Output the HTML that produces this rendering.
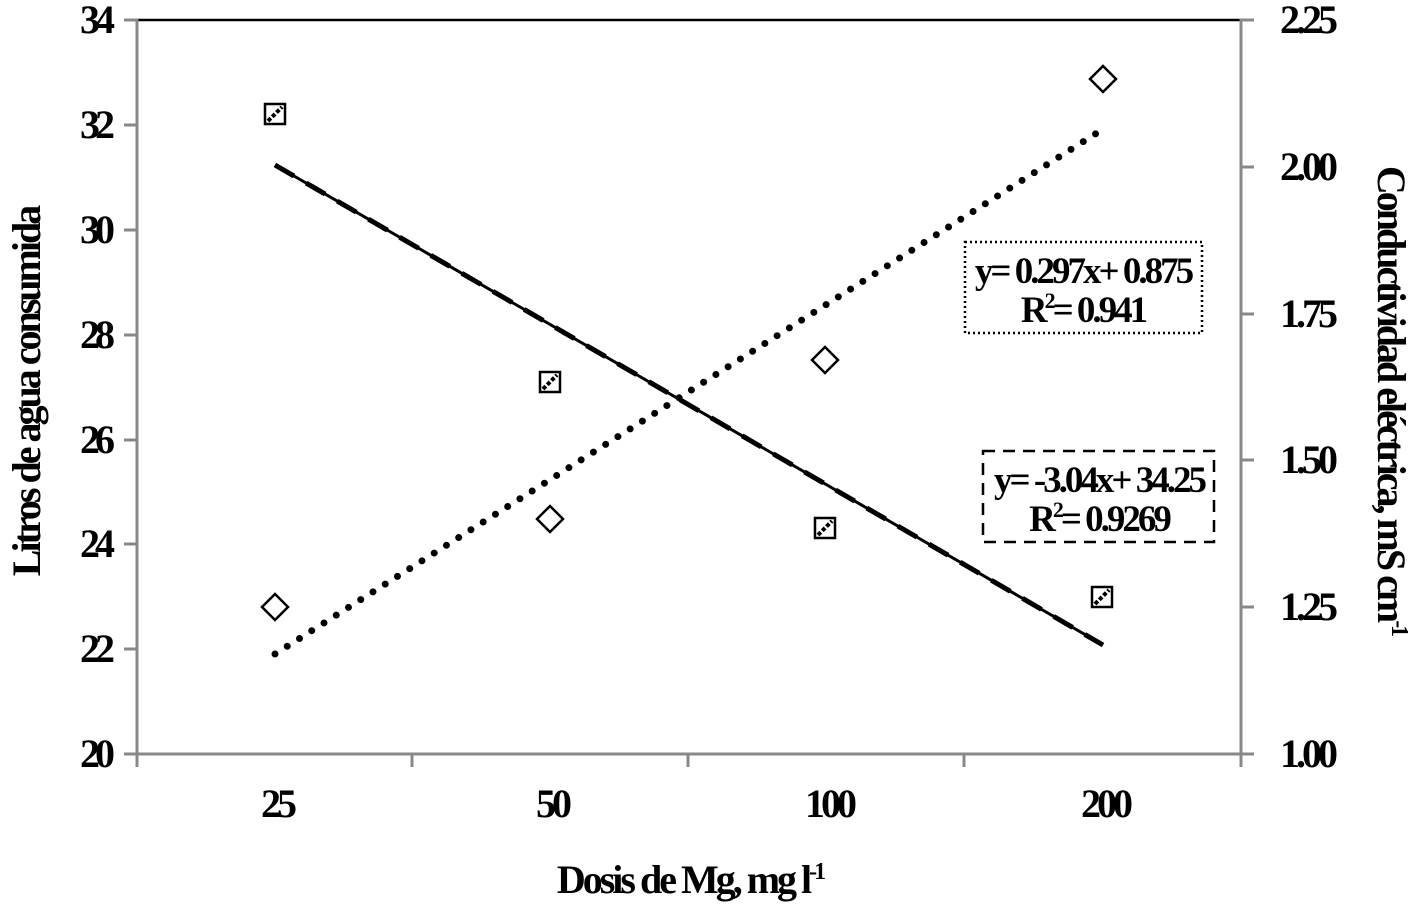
<!DOCTYPE html>
<html><head><meta charset="utf-8"><style>
html,body{margin:0;padding:0;background:#fff;}
svg text{font-family:"Liberation Serif",serif;font-weight:bold;fill:#000;}
</style></head><body>
<svg width="1416" height="904" viewBox="0 0 1416 904" xmlns="http://www.w3.org/2000/svg">
<line x1="137" y1="20" x2="1241" y2="20" stroke="#000" stroke-width="2.5"/>
<g stroke="#888" stroke-width="3">
<line x1="137" y1="19" x2="137" y2="755"/>
<line x1="1241" y1="19" x2="1241" y2="755"/>
<line x1="137" y1="754" x2="1241" y2="754"/>
<line x1="124" y1="20" x2="137" y2="20"/><line x1="124" y1="125" x2="137" y2="125"/><line x1="124" y1="230" x2="137" y2="230"/><line x1="124" y1="335" x2="137" y2="335"/><line x1="124" y1="440" x2="137" y2="440"/><line x1="124" y1="544" x2="137" y2="544"/><line x1="124" y1="649" x2="137" y2="649"/><line x1="124" y1="754" x2="137" y2="754"/>
<line x1="1241" y1="20" x2="1254" y2="20"/><line x1="1241" y1="167" x2="1254" y2="167"/><line x1="1241" y1="314" x2="1254" y2="314"/><line x1="1241" y1="460" x2="1254" y2="460"/><line x1="1241" y1="607" x2="1254" y2="607"/><line x1="1241" y1="754" x2="1254" y2="754"/>
<line x1="137" y1="754" x2="137" y2="767"/><line x1="412" y1="754" x2="412" y2="767"/><line x1="688" y1="754" x2="688" y2="767"/><line x1="964" y1="754" x2="964" y2="767"/><line x1="1241" y1="754" x2="1241" y2="767"/>
</g>
<g font-size="40" text-anchor="end" letter-spacing="-5">
<text x="110" y="33">34</text><text x="110" y="138">32</text><text x="110" y="243">30</text><text x="110" y="348">28</text><text x="110" y="453">26</text><text x="110" y="557">24</text><text x="110" y="662">22</text><text x="110" y="767">20</text>
</g>
<g font-size="40" text-anchor="start" letter-spacing="-4">
<text x="1280" y="33">2.25</text><text x="1280" y="180">2.00</text><text x="1280" y="327">1.75</text><text x="1280" y="473">1.50</text><text x="1280" y="620">1.25</text><text x="1280" y="767">1.00</text>
</g>
<g font-size="40" text-anchor="middle" letter-spacing="-4">
<text x="277" y="817">25</text><text x="552" y="817">50</text><text x="829" y="817">100</text><text x="1105" y="817">200</text>
</g>
<g font-size="40" text-anchor="middle" letter-spacing="-3">
<text x="690" y="893">Dosis de Mg, mg l<tspan font-size="24" dy="-14">-1</tspan></text>
<text transform="translate(40 392) rotate(-90)">Litros de agua consumida</text>
<text transform="translate(1378 400) rotate(90)">Conductividad eléctrica, mS cm<tspan font-size="24" dy="-14">-1</tspan></text>
</g>
<line x1="275" y1="165" x2="1103" y2="645" stroke="#000" stroke-width="3"/>
<line x1="275" y1="165" x2="1103" y2="645" stroke="#000" stroke-width="5" stroke-dasharray="22 14"/>
<line x1="275" y1="654" x2="1100" y2="131" stroke="#000" stroke-width="7" stroke-linecap="round" stroke-dasharray="0 14.5"/>
<g fill="#fff" stroke="#000" stroke-width="2.5">
<rect x="265" y="104" width="20" height="20"/><rect x="540" y="372" width="20" height="20"/><rect x="815" y="518" width="20" height="20"/><rect x="1092" y="587" width="20" height="20"/>
</g>
<g stroke="#000" stroke-width="4" stroke-dasharray="4 2">
<line x1="268" y1="121" x2="282" y2="107"/><line x1="543" y1="389" x2="557" y2="375"/><line x1="818" y1="535" x2="832" y2="521"/><line x1="1095" y1="604" x2="1109" y2="590"/>
</g>
<g fill="#fff" stroke="#000" stroke-width="2.5">
<polygon points="275,594 288,607 275,620 262,607"/>
<polygon points="550,506 563,519 550,532 537,519"/>
<polygon points="825,347 838,360 825,373 812,360"/>
<polygon points="1103,66 1116,79 1103,92 1090,79"/>
</g>
<rect x="965" y="242" width="237" height="91" fill="#fff" stroke="#000" stroke-width="2.5" stroke-dasharray="2 3"/>
<rect x="983" y="451" width="231" height="91" fill="#fff" stroke="#000" stroke-width="2.5" stroke-dasharray="12 8"/>
<g font-size="37" text-anchor="middle" letter-spacing="-3">
<text x="1083" y="283">y= 0.297x+ 0.875</text>
<text x="1083" y="322">R<tspan font-size="22" dy="-14">2</tspan><tspan dy="14">= 0.941</tspan></text>
<text x="1099" y="492">y= -3.04x+ 34.25</text>
<text x="1099" y="531">R<tspan font-size="22" dy="-14">2</tspan><tspan dy="14">= 0.9269</tspan></text>
</g>
</svg>
</body></html>
